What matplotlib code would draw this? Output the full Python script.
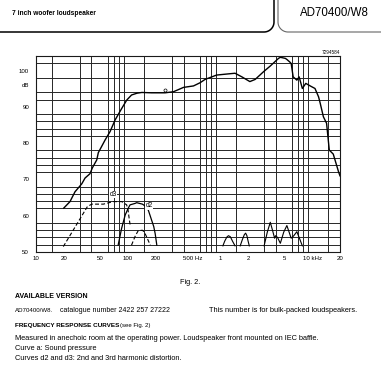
import numpy as np
import matplotlib
matplotlib.use("Agg")
import matplotlib.pyplot as plt
from matplotlib.ticker import NullFormatter

plt.rcParams['font.family'] = ['Liberation Sans', 'DejaVu Sans']

# ---------------- data ----------------
# curve a : sound pressure (dB) vs frequency (Hz)
a_freq = [20, 23.4, 26.5, 31.4, 34.1, 38.6, 40.9, 45.7, 47.5, 56.3, 63.7, 72.2,
          85.3, 96.7, 109, 125, 141, 180, 252, 311, 400, 513, 607, 685, 915,
          1200, 1450, 1720, 2100, 2400, 2950, 3500, 4300, 4500, 5100, 5300,
          5700, 5900, 6200, 6800, 7200, 7800, 8500, 9500, 10700, 11700, 12200,
          13200, 14300, 15300, 16900, 19300, 20000]
a_db = [62.1, 63.9, 66.6, 68.8, 70.4, 71.6, 73.2, 75.4, 77.4, 80.9, 83.2, 86.4,
        89.6, 91.9, 93.3, 93.8, 94.0, 93.9, 93.9, 94.2, 95.4, 95.8, 96.7, 97.6,
        98.8, 99.1, 99.3, 98.3, 97.0, 97.6, 99.7, 101.3, 103.4, 103.7, 103.4,
        103.1, 102.4, 102.0, 98.3, 97.4, 98.3, 95.1, 96.5, 95.8, 95.1, 92.8,
        91.0, 87.3, 85.5, 78.1, 77.0, 72.1, 71.0]

# curve d3 : 3rd harmonic distortion (dashed), two branches
d3_freq_1 = [19.8, 36.1, 40.3, 53.9, 69, 85.3, 96.5, 100, 103, 106]
d3_db_1 = [51.5, 62.5, 63.2, 63.2, 63.9, 63.9, 63.0, 61.5, 59.0, 57.0]
d3_freq_2 = [109, 120, 129, 143, 150, 160, 170, 174]
d3_db_2 = [51.9, 54.5, 55.9, 56.0, 55.5, 54.0, 52.5, 51.9]

# curve d2 : 2nd harmonic distortion (solid), low-frequency branch
d2_freq_1 = [78, 85, 89, 93, 100, 105, 119, 124, 143, 155, 166, 180, 190, 197, 205]
d2_db_1 = [51.9, 56.5, 58.4, 60.2, 62.0, 63.0, 63.4, 63.6, 63.2, 62.6, 61.5,
           58.8, 57.0, 55.0, 51.9]
# d2 high-frequency humps
d2_freq_2 = [1070, 1120, 1180, 1230, 1290, 1360, 1450]
d2_db_2 = [51.7, 53.0, 54.1, 54.5, 54.2, 53.0, 51.7]
d2_freq_3 = [1650, 1740, 1830, 1890, 1950, 2010, 2070]
d2_db_3 = [51.7, 53.4, 54.8, 55.2, 54.5, 53.0, 51.7]
d2_freq_4 = [3000, 3250, 3500, 3700, 3900, 4000, 4200, 4500, 4900, 5300, 5600,
             5900, 6300, 6800, 7200, 7800]
d2_db_4 = [51.7, 55.5, 58.2, 56.0, 53.8, 54.5, 54.0, 52.4, 55.5, 57.3, 55.5,
           53.8, 54.5, 55.6, 54.0, 51.7]

marker_freq = [252]
marker_db = [94.7]

x_tick_vals = [10, 20, 50, 100, 200, 500, 1000, 2000, 5000, 10000, 20000]
x_tick_labels = ["10", "20", "50", "100", "200", "500 Hz", "1", "2", "5", "10 kHz", "20"]
y_tick_vals = [50, 60, 70, 80, 90, 96, 100]
y_tick_labels = ["50", "60", "70", "80", "90", "dB", "100"]

# ---------------- figure ----------------
W, H = 381, 375
fig = plt.figure(figsize=(W / 100, H / 100), dpi=100)
fig.patch.set_facecolor("white")

left, right, top, bottom = 36, 340, 56.2, 252
ax = fig.add_axes([left / W, 1 - bottom / H, (right - left) / W, (bottom - top) / H])
ax.set_xscale("log")
ax.set_xlim(10, 20000)
ax.set_ylim(50, 104)

# grid
grid_x = []
for dec in [10, 100, 1000, 10000]:
    for m in [1, 1.5, 2, 3, 4, 5, 6, 7, 8, 9]:
        v = dec * m
        if 10 < v < 20000:
            grid_x.append(v)
ax.set_xticks(grid_x, minor=True)
ax.set_xticks(x_tick_vals)
ax.set_xticklabels(x_tick_labels)
ax.xaxis.set_minor_formatter(NullFormatter())
ax.set_yticks(np.arange(52, 104, 2), minor=True)
ax.set_yticks(y_tick_vals)
ax.set_yticklabels(y_tick_labels)
ax.yaxis.set_minor_formatter(NullFormatter())
ax.grid(True, which="minor", color="#262626", linewidth=0.7)
ax.tick_params(which="both", length=0)
ax.tick_params(axis="x", labelsize=4.4, pad=3)
ax.tick_params(axis="y", labelsize=4.4, pad=5)
for s in ax.spines.values():
    s.set_linewidth(0.8)
    s.set_color("#1a1a1a")

# curves
ax.plot(a_freq, a_db, color="black", lw=1.0, solid_joinstyle="round")
ax.plot(d3_freq_1, d3_db_1, color="black", lw=0.8, dashes=(3.5, 2))
ax.plot(d3_freq_2, d3_db_2, color="black", lw=0.8, dashes=(3.5, 2))
ax.plot(d2_freq_1, d2_db_1, color="black", lw=0.9)
ax.plot(d2_freq_2, d2_db_2, color="black", lw=0.8)
ax.plot(d2_freq_3, d2_db_3, color="black", lw=0.8)
ax.plot(d2_freq_4, d2_db_4, color="black", lw=0.8)
ax.plot(marker_freq, marker_db, marker="o", ms=2.2, mfc="white", mec="black",
        mew=0.5, ls="none")
ax.text(69, 64.9, "d3", fontsize=4.8, ha="center", va="bottom",
        bbox=dict(facecolor="white", edgecolor="none", pad=0.2))
ax.text(170, 62.7, "d2", fontsize=4.8, ha="center", va="center",
        bbox=dict(facecolor="white", edgecolor="none", pad=0.2))

# overlay for page decorations / text (pixel coordinates)
ov = fig.add_axes([0, 0, 1, 1], zorder=-1)
ov.set_xlim(0, W)
ov.set_ylim(H, 0)
ov.axis("off")

# header rule lines with curved joins
t = np.linspace(0, np.pi / 2, 20)
r = 10
lx = np.concatenate([[0, 264], 264 + r * np.sin(t), [274, 274]])
ly = np.concatenate([[32, 32], 22 + r * np.cos(t), [22, 0]])
ov.plot(lx, ly, color="black", lw=1.1)
rx = np.concatenate([[278, 278], 288 - r * np.cos(t), [288, 381]])
ry = np.concatenate([[0, 22], 22 + r * np.sin(t), [32, 32]])
ov.plot(rx, ry, color="#666666", lw=0.8)

ov.text(12, 13.5, "7 inch woofer loudspeaker", fontsize=4.8, fontweight="bold",
        ha="left", va="center")
ov.text(300, 13.5, "AD70400/W8", fontsize=8.3, ha="left", va="center")
ov.text(340, 52, "7294584", fontsize=3.3, ha="right", va="center")

body = 5.3
ov.text(190, 282, "Fig. 2.", fontsize=body, ha="center", va="center")
ov.text(15, 297, "AVAILABLE VERSION", fontsize=5.0, fontweight="bold", va="center")
ov.text(15, 311, "AD70400/W8.", fontsize=4.4, va="center")
ov.text(60, 311, "catalogue number 2422 257 27222", fontsize=5.0, va="center")
ov.text(209, 311, "This number is for bulk-packed loudspeakers.", fontsize=body, va="center")
ov.text(15, 326, "FREQUENCY RESPONSE CURVES", fontsize=4.6, fontweight="bold", va="center")
ov.text(120, 326, "(see Fig. 2)", fontsize=4.3, va="center")
ov.text(15, 339, "Measured in anechoic room at the operating power. Loudspeaker front "
        "mounted on IEC baffle.", fontsize=body, va="center")
ov.text(15, 349, "Curve a: Sound pressure", fontsize=body, va="center")
ov.text(15, 359, "Curves d2 and d3: 2nd and 3rd harmonic distortion.", fontsize=body,
        va="center")

fig.savefig("out.png", dpi=100, facecolor="white")
